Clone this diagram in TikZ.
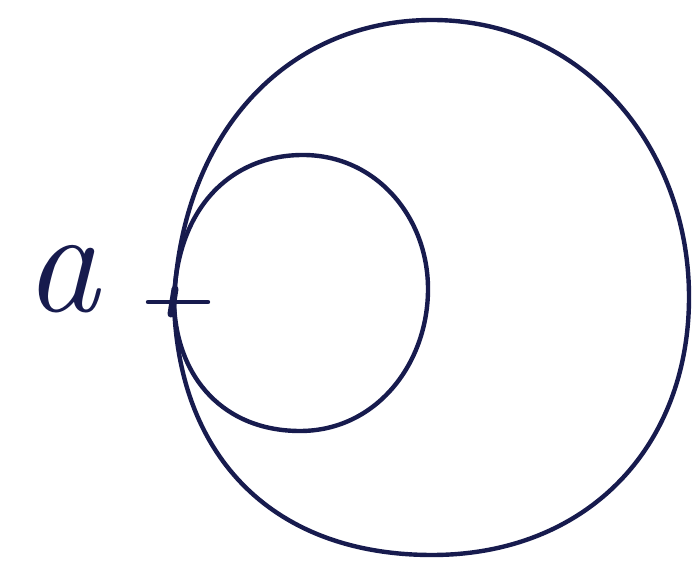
\documentclass[tikz,border=0pt]{standalone}
\definecolor{ink}{HTML}{171B4E}
\begin{document}
\begin{tikzpicture}[x=1pt,y=1pt,
  pen/.style={draw=ink,line width=4.4pt,line cap=round,line join=round}]
\useasboundingbox (0,0) rectangle (693,569);
\coordinate (a) at (174,267);
% inner loop
\draw[pen] (a) .. controls (176,360) and (230,414) .. (303,414)
  .. controls (376,414) and (428,352) .. (428,280)
  .. controls (428,205) and (376,138) .. (300,138)
  .. controls (225,138) and (176,190) .. (a);
% outer loop
\draw[pen] (a) .. controls (182,440) and (290,549) .. (432,549)
  .. controls (585,549) and (689,420) .. (689,272)
  .. controls (689,120) and (585,14) .. (432,14)
  .. controls (275,14) and (178,110) .. (a);
% cross mark
\draw[pen] (148,267) -- (208,267);
\draw[pen,line width=7pt] (171,255) -- (175,280);
% label
\node[text=ink,font=\fontsize{150}{150}\selectfont\itshape] (la) at (62,290) {a};
\end{tikzpicture}
\end{document}
